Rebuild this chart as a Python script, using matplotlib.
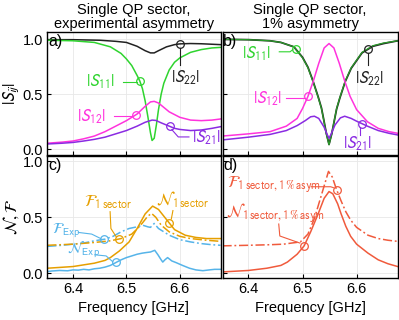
import numpy as np
import matplotlib
matplotlib.use('Agg')
import matplotlib.pyplot as plt

plt.rcParams['font.family'] = ['Liberation Sans', 'DejaVu Sans']
plt.rcParams['mathtext.fontset'] = 'stixsans'

# ---------------- data ----------------
# panel a) experimental asymmetry
fa_s11 = [6.352, 6.40, 6.44, 6.47, 6.49, 6.50, 6.51, 6.52, 6.525, 6.53, 6.535, 6.54, 6.545, 6.548,
          6.552, 6.556, 6.56, 6.565, 6.57, 6.58, 6.59, 6.60, 6.62, 6.64, 6.66, 6.676]
s11_a = [0.99, 0.985, 0.97, 0.93, 0.87, 0.82, 0.76, 0.67, 0.62, 0.55, 0.44, 0.30, 0.15, 0.08,
         0.10, 0.22, 0.36, 0.50, 0.60, 0.72, 0.79, 0.83, 0.88, 0.905, 0.92, 0.925]
fa_s22 = [6.352, 6.40, 6.45, 6.48, 6.50, 6.52, 6.535, 6.545, 6.552, 6.56, 6.575, 6.59, 6.60, 6.62, 6.64, 6.676]
s22_a = [0.995, 0.995, 0.99, 0.98, 0.97, 0.935, 0.895, 0.875, 0.875, 0.895, 0.93, 0.95, 0.957, 0.96, 0.958, 0.95]
fa_s12 = [6.352, 6.38, 6.40, 6.42, 6.44, 6.46, 6.48, 6.50, 6.52, 6.535, 6.545, 6.552, 6.56, 6.57,
          6.58, 6.60, 6.62, 6.64, 6.66, 6.676]
s12_a = [0.055, 0.065, 0.075, 0.095, 0.12, 0.16, 0.21, 0.26, 0.32, 0.39, 0.43, 0.435, 0.42, 0.38,
         0.34, 0.29, 0.265, 0.26, 0.265, 0.275]
fa_s21 = [6.352, 6.38, 6.40, 6.42, 6.44, 6.46, 6.48, 6.50, 6.52, 6.535, 6.548, 6.555, 6.565, 6.575,
          6.59, 6.60, 6.62, 6.64, 6.66, 6.676]
s21_a = [0.048, 0.055, 0.062, 0.075, 0.09, 0.11, 0.14, 0.17, 0.21, 0.245, 0.265, 0.262, 0.24, 0.22,
         0.19, 0.18, 0.17, 0.175, 0.19, 0.205]

# panel b) 1% asymmetry
fb_s11 = [6.352, 6.40, 6.44, 6.46, 6.484, 6.50, 6.51, 6.519, 6.529, 6.535, 6.539, 6.544, 6.549,
          6.554, 6.559, 6.563, 6.569, 6.579, 6.59, 6.61, 6.63, 6.65, 6.676]
s11_b = [0.998, 0.995, 0.985, 0.97, 0.93, 0.83, 0.74, 0.62, 0.47, 0.37, 0.27, 0.14, 0.04,
         0.14, 0.27, 0.37, 0.47, 0.62, 0.74, 0.88, 0.94, 0.965, 0.985]
fb_s22 = fb_s11
s22_b = [0.998, 0.995, 0.985, 0.97, 0.93, 0.835, 0.745, 0.625, 0.475, 0.375, 0.275, 0.145, 0.045,
         0.14, 0.265, 0.365, 0.465, 0.615, 0.735, 0.875, 0.935, 0.96, 0.985]
fb_s12 = [6.352, 6.40, 6.44, 6.47, 6.49, 6.50, 6.51, 6.52, 6.53, 6.54, 6.549, 6.558, 6.568, 6.578,
          6.588, 6.60, 6.62, 6.64, 6.66, 6.676]
s12_b = [0.12, 0.14, 0.16, 0.21, 0.28, 0.37, 0.48, 0.62, 0.78, 0.92, 0.96, 0.92, 0.78, 0.62,
         0.48, 0.36, 0.25, 0.19, 0.16, 0.145]
fb_s21 = [6.352, 6.40, 6.44, 6.47, 6.49, 6.505, 6.515, 6.522, 6.53, 6.54, 6.545, 6.549, 6.553, 6.56,
          6.57, 6.578, 6.59, 6.60, 6.62, 6.64, 6.66, 6.676]
s21_b = [0.085, 0.11, 0.135, 0.17, 0.215, 0.26, 0.295, 0.30, 0.28, 0.20, 0.14, 0.10, 0.14, 0.22,
         0.285, 0.30, 0.28, 0.255, 0.21, 0.17, 0.145, 0.13]

# panel c) noise / Fano
fc_n1 = [6.352, 6.40, 6.44, 6.46, 6.47, 6.487, 6.505, 6.52, 6.535, 6.549, 6.56, 6.575, 6.59, 6.61,
         6.63, 6.65, 6.676]
n1_c = [0.045, 0.06, 0.09, 0.115, 0.14, 0.20, 0.28, 0.40, 0.53, 0.60, 0.57, 0.48, 0.39, 0.34,
        0.32, 0.31, 0.31]
fc_f1 = [6.352, 6.40, 6.44, 6.47, 6.49, 6.51, 6.525, 6.54, 6.547, 6.555, 6.565, 6.58, 6.60, 6.62,
         6.65, 6.676]
f1_c = [0.25, 0.26, 0.275, 0.29, 0.31, 0.35, 0.42, 0.51, 0.535, 0.50, 0.43, 0.37, 0.33, 0.31,
        0.295, 0.285]
fc_fexp = [6.352, 6.38, 6.40, 6.42, 6.44, 6.46, 6.475, 6.49, 6.505, 6.52, 6.53, 6.54, 6.545, 6.552,
           6.56, 6.57, 6.58, 6.60, 6.62, 6.64, 6.66, 6.676]
fexp_c = [0.24, 0.25, 0.26, 0.27, 0.29, 0.305, 0.33, 0.37, 0.40, 0.415, 0.43, 0.415, 0.41, 0.445,
          0.40, 0.37, 0.34, 0.30, 0.28, 0.265, 0.255, 0.25]
fc_nexp = [6.352, 6.36, 6.375, 6.39, 6.40, 6.41, 6.42, 6.43, 6.44, 6.45, 6.46, 6.47, 6.48, 6.49,
           6.50, 6.51, 6.52, 6.53, 6.537, 6.545, 6.553, 6.559, 6.565, 6.568, 6.572, 6.577, 6.585,
           6.593, 6.605, 6.618, 6.63, 6.643, 6.655, 6.665, 6.676]
nexp_c = [0.015, 0.02, 0.025, 0.022, 0.03, 0.028, 0.035, 0.03, 0.04, 0.045, 0.055, 0.07, 0.095, 0.12,
          0.14, 0.155, 0.17, 0.18, 0.185, 0.19, 0.205, 0.165, 0.12, 0.10, 0.12, 0.14, 0.11,
          0.095, 0.07, 0.045, 0.03, 0.023, 0.03, 0.035, 0.035]

# panel d) 1% asymmetry
fd_n = [6.352, 6.40, 6.434, 6.46, 6.472, 6.49, 6.503, 6.515, 6.528, 6.54, 6.549, 6.556, 6.565, 6.571,
        6.58, 6.589, 6.60, 6.621, 6.64, 6.658, 6.676]
n_d = [0.012, 0.025, 0.045, 0.07, 0.10, 0.17, 0.245, 0.37, 0.52, 0.67, 0.73, 0.71, 0.62, 0.535,
       0.42, 0.33, 0.26, 0.18, 0.12, 0.085, 0.06]
fd_f = [6.352, 6.40, 6.44, 6.465, 6.48, 6.496, 6.51, 6.522, 6.535, 6.548, 6.555, 6.562, 6.571, 6.58,
        6.589, 6.60, 6.621, 6.64, 6.658, 6.676]
f_d = [0.245, 0.25, 0.255, 0.26, 0.27, 0.28, 0.35, 0.49, 0.70, 0.91, 0.86, 0.76, 0.65, 0.55,
       0.475, 0.41, 0.34, 0.31, 0.295, 0.285]

xticks = [6.4, 6.5, 6.6]
xticklabels = ['6.4', '6.5', '6.6']
yticks = [0.0, 0.5, 1.0]
yticklabels = ['0.0', '0.5', '1.0']

# ---------------- styling ----------------
C_S11A = '#2fd42f'
C_S11B = '#2a9a2a'
C_S22 = '#222222'
C_S12 = '#ff33dd'
C_S21 = '#8a2be2'
C_OR = '#e69f00'
C_BL = '#56b4e9'
C_RD = '#f05a3c'
DASHDOT = (0, (6, 1.8, 1.2, 1.8))
LW = 1.1
FS_S = 12
FS_C = 12
FS_E = 11

W, H = 399.0, 320.0
fig = plt.figure(figsize=(W / 100, H / 100), dpi=100)


def rect(x0, x1, y0, y1):
    return [x0 / W, 1 - y1 / H, (x1 - x0) / W, (y1 - y0) / H]


axa = fig.add_axes(rect(47.3, 220.5, 32.3, 155.0))
axb = fig.add_axes(rect(222.5, 397.7, 32.3, 155.0))
axc = fig.add_axes(rect(47.3, 220.5, 156.3, 278.3))
axd = fig.add_axes(rect(222.5, 397.7, 156.3, 278.3))

for ax in (axa, axb, axc, axd):
    ax.set_xlim(6.352, 6.676)
    ax.set_xticks(xticks)
    ax.set_yticks(yticks)
    ax.grid(True, color='#e8e8e8', lw=0.6, zorder=0)
    ax.set_axisbelow(True)
    ax.tick_params(direction='in', length=3, width=0.8, labelsize=10.5, pad=3,
                   top=False, right=False)
    for s in ax.spines.values():
        s.set_linewidth(1.0)
        s.set_color('black')

for ax in (axa, axb):
    ax.set_ylim(-0.052, 1.062)
    ax.set_xticklabels([])
for ax in (axc, axd):
    ax.set_ylim(-0.045, 1.045)
    ax.set_xticklabels(xticklabels)
    ax.set_xlabel('Frequency [GHz]', fontsize=10.5, labelpad=3)
for ax in (axb, axd):
    ax.set_yticklabels([])
for ax in (axa, axc):
    ax.set_yticklabels(yticklabels)

axa.set_ylabel(r'$|S_{ij}|$', fontsize=12, labelpad=1)
axc.set_ylabel(r'$\mathcal{N},\mathcal{F}$', fontsize=12, labelpad=1)

axa.set_title('Single QP sector,\nexperimental asymmetry', fontsize=10.5, pad=3, linespacing=1.0)
axb.set_title('Single QP sector,\n1% asymmetry', fontsize=10.5, pad=3, linespacing=1.0)

for ax, lab in ((axa, 'a)'), (axb, 'b)'), (axc, 'c)'), (axd, 'd)')):
    ax.text(0.005, 0.99, lab, transform=ax.transAxes, ha='left', va='top', fontsize=11.5)


def circ(ax, fx, fy, at, color):
    y = float(np.interp(at, fx, fy))
    ax.plot([at], [y], 'o', mfc='none', mec=color, ms=5.5, mew=0.9, zorder=5)
    return y


def leader(ax, xs, ys, color):
    ax.plot(xs, ys, color=color, lw=0.8, zorder=4)


# ---------------- panel a ----------------
axa.plot(fa_s22, s22_a, color=C_S22, lw=LW)
axa.plot(fa_s11, s11_a, color=C_S11A, lw=LW)
axa.plot(fa_s12, s12_a, color=C_S12, lw=LW)
axa.plot(fa_s21, s21_a, color=C_S21, lw=LW)

y = circ(axa, fa_s11, s11_a, 6.525, C_S11A)
leader(axa, [6.494, 6.519], [0.613, 0.613], C_S11A)
axa.text(6.452, 0.613, r'$|S_{11}|$', color=C_S11A, fontsize=FS_S, ha='center', va='center')

y = circ(axa, fa_s22, s22_a, 6.600, C_S22)
leader(axa, [6.600, 6.600], [y - 0.035, 0.765], C_S22)
axa.text(6.610, 0.645, r'$|S_{22}|$', color=C_S22, fontsize=FS_S, ha='center', va='center')

y = circ(axa, fa_s12, s12_a, 6.518, C_S12)
leader(axa, [6.477, 6.512], [0.298, 0.298], C_S12)
axa.text(6.434, 0.298, r'$|S_{12}|$', color=C_S12, fontsize=FS_S, ha='center', va='center')

y = circ(axa, fa_s21, s21_a, 6.581, C_S21)
leader(axa, [6.585, 6.597, 6.617], [y - 0.03, 0.112, 0.112], C_S21)
axa.text(6.650, 0.102, r'$|S_{21}|$', color=C_S21, fontsize=FS_S, ha='center', va='center')

# ---------------- panel b ----------------
axb.plot(fb_s22, s22_b, color=C_S22, lw=1.3)
axb.plot(fb_s11, s11_b, color=C_S11B, lw=0.9)
axb.plot(fb_s12, s12_b, color=C_S12, lw=LW)
axb.plot(fb_s21, s21_b, color=C_S21, lw=LW)

y = circ(axb, fb_s11, s11_b, 6.487, C_S11A)
leader(axb, [6.457, 6.477, 6.482], [0.885, 0.885, 0.905], C_S11A)
axb.text(6.415, 0.87, r'$|S_{11}|$', color=C_S11A, fontsize=FS_S, ha='center', va='center')

y = circ(axb, fb_s22, s22_b, 6.621, C_S22)
leader(axb, [6.621, 6.621], [y - 0.035, 0.765], C_S22)
axb.text(6.623, 0.644, r'$|S_{22}|$', color=C_S22, fontsize=FS_S, ha='center', va='center')

y = circ(axb, fb_s12, s12_b, 6.510, C_S12)
leader(axb, [6.470, 6.504], [0.47, 0.47], C_S12)
axb.text(6.435, 0.462, r'$|S_{12}|$', color=C_S12, fontsize=FS_S, ha='center', va='center')

y = circ(axb, fb_s21, s21_b, 6.610, C_S21)
leader(axb, [6.606, 6.606], [y - 0.03, 0.13], C_S21)
axb.text(6.602, 0.054, r'$|S_{21}|$', color=C_S21, fontsize=FS_S, ha='center', va='center')

# ---------------- panel c ----------------
axc.plot(fc_fexp, fexp_c, color=C_BL, lw=LW, ls=DASHDOT)
axc.plot(fc_nexp, nexp_c, color=C_BL, lw=LW)
axc.plot(fc_f1, f1_c, color=C_OR, lw=LW, ls=DASHDOT)
axc.plot(fc_n1, n1_c, color=C_OR, lw=LW)

y = circ(axc, fc_f1, f1_c, 6.487, C_OR)
leader(axc, [6.4695, 6.471, 6.481], [0.55, 0.40, 0.325], C_OR)
axc.text(6.421, 0.63, r'$\mathcal{F}_{\mathrm{1\,sector}}$', color=C_OR, fontsize=FS_C,
         ha='left', va='center')

y = circ(axc, fc_n1, n1_c, 6.580, C_OR)
leader(axc, [6.587, 6.584], [0.56, y + 0.035], C_OR)
axc.text(6.555, 0.655, r'$\mathcal{N}_{\mathrm{1\,sector}}$', color=C_OR, fontsize=FS_C,
         ha='left', va='center')

y = circ(axc, fc_fexp, fexp_c, 6.459, C_BL)
leader(axc, [6.410, 6.435, 6.452], [0.365, 0.35, 0.31], C_BL)
axc.text(6.360, 0.385, r'$\mathcal{F}_{\mathrm{Exp}}$', color=C_BL, fontsize=FS_E,
         ha='left', va='center')

y = circ(axc, fc_nexp, nexp_c, 6.481, C_BL)
leader(axc, [6.441, 6.462, 6.474], [0.165, 0.155, 0.105], C_BL)
axc.text(6.389, 0.215, r'$\mathcal{N}_{\mathrm{Exp}}$', color=C_BL, fontsize=FS_E,
         ha='left', va='center')

# ---------------- panel d ----------------
axd.plot(fd_f, f_d, color=C_RD, lw=LW, ls=DASHDOT)
axd.plot(fd_n, n_d, color=C_RD, lw=LW)

y = circ(axd, fd_f, f_d, 6.563, C_RD)
leader(axd, [6.516, 6.552, 6.557], [0.773, 0.773, 0.765], C_RD)
axd.text(6.360, 0.79, r'$\mathcal{F}_{\mathrm{1\,sector, 1\,\%\,asym}}$', color=C_RD, fontsize=FS_C,
         ha='left', va='center')

y = circ(axd, fd_n, n_d, 6.502, C_RD)
leader(axd, [6.456, 6.458, 6.495], [0.44, 0.333, 0.27], C_RD)
axd.text(6.358, 0.54, r'$\mathcal{N}_{\mathrm{1\,sector, 1\,\%\,asym}}$', color=C_RD, fontsize=FS_C,
         ha='left', va='center')

fig.savefig('out.png', dpi=100)
